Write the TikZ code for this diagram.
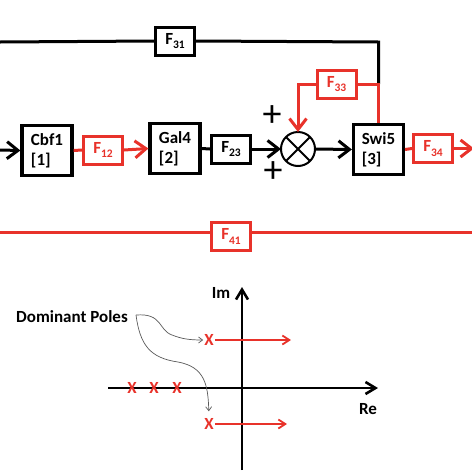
\documentclass[tikz,border=0pt]{standalone}
\usepackage{fontspec}
\setmainfont{Carlito}
\usetikzlibrary{arrows.meta,calc}
\definecolor{fred}{RGB}{232,50,42}
\newcommand{\Fsub}[1]{F\raisebox{-0.5ex}{\fontsize{11.5}{11.5}\selectfont #1}}
\tikzset{
	every node/.style={font=\bfseries\fontsize{17}{20}\selectfont},
	gene/.style={draw, line width=3.2pt, minimum width=50pt, minimum height=50pt, align=left, inner sep=0pt},
	flux/.style={draw, line width=3pt, minimum width=39pt, minimum height=28pt, inner sep=0pt},
	sign/.style={font=\fontsize{38}{38}\selectfont, inner sep=0pt},
	wire/.style={line width=3pt},
	barb/.style={-{Straight Barb[length=11pt,width=17pt]}},
	pole/.style={text=fred, inner sep=1pt},
	poleshift/.style={fred, line width=1.8pt, -{Straight Barb[length=7pt,width=9pt]}},
	axis/.style={line width=2.6pt, -{Straight Barb[length=10pt,width=12pt]}},
	hint/.style={black!65, line width=0.7pt, -{Straight Barb[length=4pt,width=6pt]}}
}

\begin{document}
\begin{tikzpicture}[x=1pt, y=-1pt]
			%%%%% START %%%%%
			\useasboundingbox (0,0) rectangle (472,472);
			
			% genes
			\node[gene] (cbf) at (47, 150.5) {Cbf1\\{[1]}};
			\node[gene] (gal) at (175, 148.5) {Gal4\\{[2]}};
			\node[gene] (swi) at (378.5, 149.5) {Swi5\\{[3]}};
			\node[circle, draw, line width=2pt, minimum size=34pt, outer sep=0pt, inner sep=0pt] (sum) at (298, 149) {};
			\draw[line width=2pt] ($(sum)+(45:17)$) -- ($(sum)+(225:17)$) ($(sum)+(135:17)$) -- ($(sum)+(315:17)$);
			\node[sign] (plusT) at (272, 116) {+};
			\node[sign] (plusB) at (273, 172) {+};
			
			% fluxes
			\node[flux, fred, text=fred] (f12) at (103, 150) {\Fsub{12}};
			\node[flux] (f23) at (231, 149) {\Fsub{23}};
			\node[flux, fred, text=fred] (f34) at (433, 148.5) {\Fsub{34}};
			\node[flux] (f31) at (175, 41) {\Fsub{31}};
			\node[flux, fred, text=fred] (f33) at (336.5, 84) {\Fsub{33}};
			\node[flux, fred, text=fred] (f41) at (231, 236.5) {\Fsub{41}};
			
			\coordinate (in) at (0, 150);
			\coordinate (out) at (474, 148.5);
			\coordinate (l31) at (0, 42);
			\coordinate (c31) at (swi.north |- l31);
			\coordinate (tap) at (swi.north |- f33.east);
			\coordinate (l41) at (0, 232);
			\coordinate (r41) at (472, 232);
			
			\draw[wire, barb] (in) -- (cbf.west);
			\draw[wire, fred] (cbf.east) -- (f12.west);
			\draw[wire, fred, barb] (f12.east) -- (gal.west);
			\draw[wire] (gal.east) -- (f23.west);
			\draw[wire, barb] (f23.east) -- (sum.west);
			\draw[wire, barb] (sum.east) -- (swi.west);
			\draw[wire, fred] (swi.east) -- (f34.west);
			\draw[wire, fred, barb] (f34.east) -- (out);
			
			\draw[wire] (l31) -- (f31.west);
			\draw[wire] (f31.east) -- (c31) -- (tap);
			\draw[wire, fred] (swi.north) -- (tap) -- (f33.east);
			\draw[wire, fred, barb] (f33.west) -| (sum.north);
			
			\draw[wire, fred] (l41) -- (f41.west |- l41);
			\draw[wire, fred] (f41.east |- r41) -- (r41);
			
			% pole plot
			\coordinate (reL) at (108, 388);
			\coordinate (reR) at (378, 388);
			\coordinate (imB) at (242, 470);
			\coordinate (imT) at (242, 287);
			\draw[axis] (reL) -- (reR);
			\draw[axis] (imB) -- (imT);
			\node (im) at (221, 293) {Im};
			\node (re) at (368, 409) {Re};
			
			\node[pole] (p1) at (132, 388) {X};
			\node[pole] (p2) at (154, 388) {X};
			\node[pole] (p3) at (177, 388) {X};
			\node[pole] (p4) at (209, 340) {X};
			\node[pole] (p5) at (209, 424) {X};
			
			\coordinate (s4) at (291, 340);
			\coordinate (s5) at (287, 424);
			\draw[poleshift] (p4.east) -- (s4);
			\draw[poleshift] (p5.east) -- (s5);
			
			\node (dom) at (72, 317) {Dominant Poles};
			\coordinate (dstart) at (136, 315);
			\draw[hint] (dstart) .. controls (163, 313) and (158, 330) .. (172, 335) .. controls (182, 339) and (190, 340) .. (p4.west);
			\draw[hint, shorten >=6pt] (dstart) .. controls (140, 345) and (150, 358) .. (178, 362) .. controls (205, 367) and (208, 385) .. (p5.north);
			
			%%%%% END %%%%%
\end{tikzpicture}
\end{document}
